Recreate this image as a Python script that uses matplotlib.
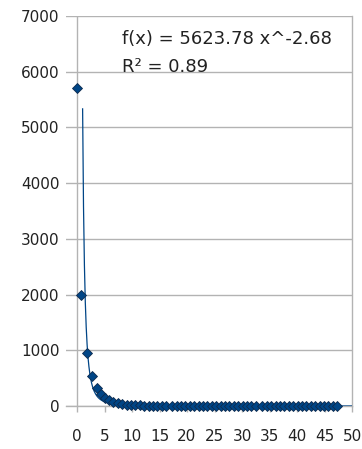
import numpy as np
import matplotlib
matplotlib.use("Agg")
import matplotlib.pyplot as plt

# --- data ---
x_vals = [0.0, 0.75, 1.8, 2.8, 3.7, 4.3, 5.0, 5.8, 6.6, 7.4, 8.2, 9.0,
          9.8, 10.6, 11.4, 12.2, 13.0, 13.8, 14.6, 15.4, 16.2, 17.3, 18.1,
          18.9, 19.7, 20.5, 21.3, 22.1, 22.9, 23.7, 24.5, 25.3, 26.1, 26.9,
          27.7, 28.5, 29.3, 30.1, 30.9, 31.7, 32.5, 33.7, 34.5, 35.3, 36.1,
          36.9, 37.7, 38.5, 39.3, 40.1, 40.9, 41.7, 42.5, 43.3, 44.1, 44.9,
          45.7, 46.5, 47.3]
y_vals = [5710, 1990, 957, 539, 318, 215, 149, 108, 72, 54, 36, 22,
          15, 12, 10, 8, 7, 6, 5, 5, 4, 4, 3,
          3, 3, 3, 2, 2, 2, 2, 2, 2, 2, 2,
          1, 1, 1, 1, 1, 1, 1, 1, 1, 1, 1,
          1, 1, 1, 1, 1, 1, 1, 1, 1, 1, 1,
          1, 1, 1]

fit_a = 5623.78
fit_b = -2.68
fit_r2 = 0.89
fit_range = (1.02, 50.0)

x_ticks = [0, 5, 10, 15, 20, 25, 30, 35, 40, 45, 50]
y_ticks = [0, 1000, 2000, 3000, 4000, 5000, 6000, 7000]

SERIES = '#004586'
GRID = '#b3b3b3'
LABEL = '#222222'

fig = plt.figure(figsize=(3.62, 4.49), dpi=100)
ax = fig.add_axes([66 / 362, 1 - 406 / 449, 286 / 362, 390 / 449])

# trendline
tx = np.linspace(fit_range[0], fit_range[1], 600)
ax.plot(tx, fit_a * tx ** fit_b, color=SERIES, lw=0.9, zorder=3)

ax.plot(x_vals, y_vals, ls='none', marker='D', ms=5.2, color=SERIES,
        mec='#0d2a4d', mew=0.6, zorder=4, clip_on=False)

ax.set_xlim(-2, 50)
ax.set_ylim(0, 7000)
ax.set_xticks(x_ticks)
ax.set_yticks(y_ticks)

for s in ['top', 'left', 'bottom']:
    ax.spines[s].set_visible(False)
ax.spines['right'].set_color(GRID)
ax.spines['right'].set_linewidth(1.0)

ax.grid(axis='y', color=GRID, lw=1.0, zorder=0)
ax.axvline(0, color=GRID, lw=1.0, zorder=1)
ax.axhline(0, color=GRID, lw=1.0, zorder=1, clip_on=False)

ax.tick_params(axis='y', length=0, pad=4.5, labelsize=11, labelcolor=LABEL)
ax.tick_params(axis='x', length=4.5, width=1.0, color=GRID, direction='out',
               pad=12, labelsize=11, labelcolor=LABEL)

fig.text(122 / 362, 1 - 44 / 449, f"f(x) = {fit_a:.2f} x^{fit_b:.2f}",
         fontsize=13, color=LABEL, va='baseline', ha='left')
fig.text(122 / 362, 1 - 72 / 449, f"R² = {fit_r2:.2f}",
         fontsize=13, color=LABEL, va='baseline', ha='left')

fig.savefig('out.png', dpi=100)
